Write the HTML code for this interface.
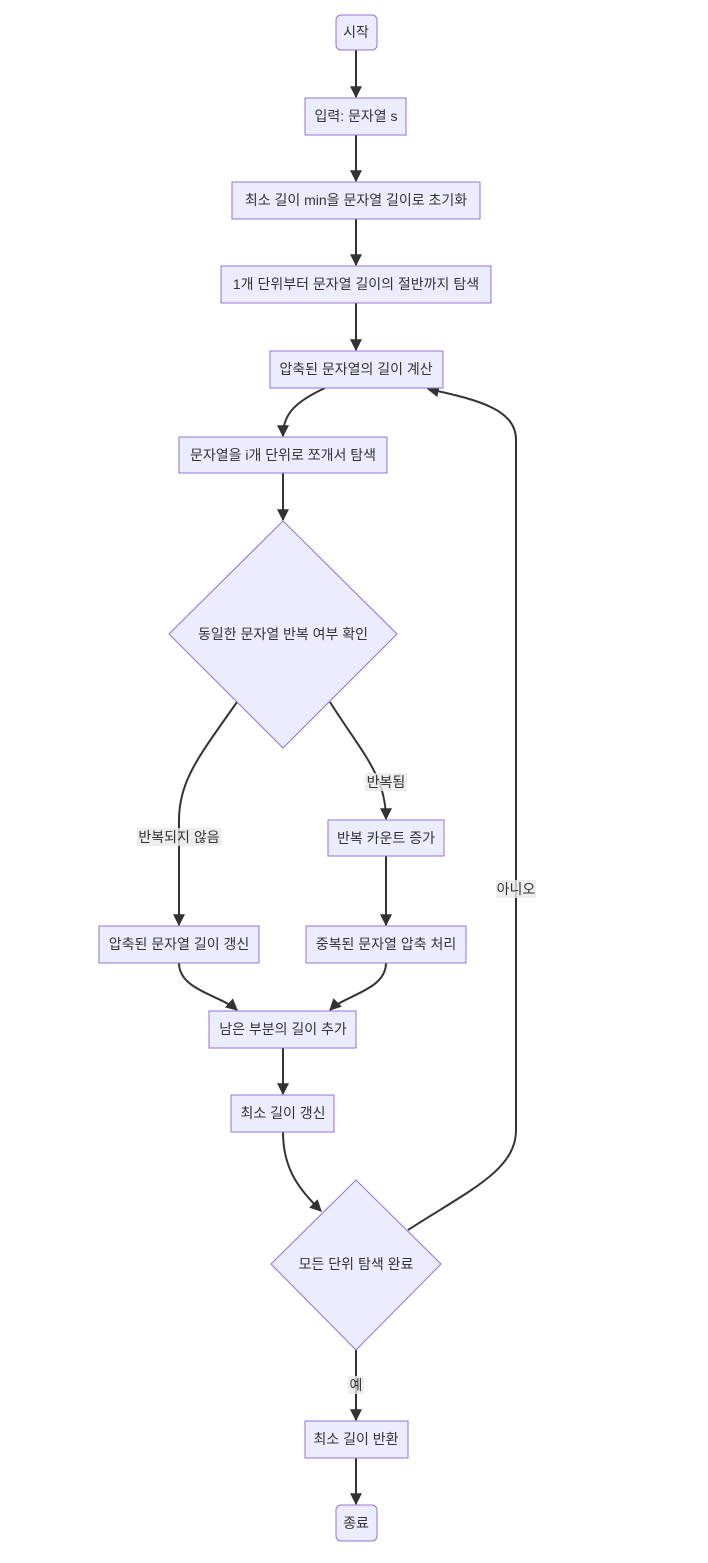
<!DOCTYPE html>
<html><head><meta charset="utf-8"><style>
html,body{margin:0;padding:0;background:#fff;}
svg text{font-family:"Liberation Sans","Noto Sans CJK KR","NanumGothic",sans-serif;font-size:14px;fill:#333;}
.n{fill:#ECECFF;stroke:#9370DB;stroke-width:1;}
.e{fill:none;stroke:#333;stroke-width:2;}
.lb{fill:#e8e8e8;opacity:0.8;stroke:none;}
</style></head><body>
<svg width="708" height="1558" viewBox="0 0 708 1558" xmlns="http://www.w3.org/2000/svg">
<defs><marker id="a" viewBox="0 0 10 10" refX="9" refY="5" markerWidth="6" markerHeight="6" orient="auto"><path d="M0,0L10,5L0,10z" fill="#333"/></marker></defs>
<!-- edges -->
<path class="e" marker-end="url(#a)" d="M356,50V97"/>
<path class="e" marker-end="url(#a)" d="M356,135V181"/>
<path class="e" marker-end="url(#a)" d="M356,219V265"/>
<path class="e" marker-end="url(#a)" d="M356,303V350"/>
<path class="e" marker-end="url(#a)" d="M325,388C295,402 283,414 283,436"/>
<path class="e" marker-end="url(#a)" d="M283,473V520"/>
<path class="e" marker-end="url(#a)" d="M237,702C200,755 179,780 179,820V925"/>
<path class="e" marker-end="url(#a)" d="M330,702C360,750 386,775 386,819"/>
<path class="e" marker-end="url(#a)" d="M386,856V925"/>
<path class="e" marker-end="url(#a)" d="M179,963C179,990 220,995 237,1010"/>
<path class="e" marker-end="url(#a)" d="M386,963C386,990 345,995 330,1010"/>
<path class="e" marker-end="url(#a)" d="M283,1048V1094"/>
<path class="e" marker-end="url(#a)" d="M283,1132C283,1170 300,1190 321,1211"/>
<path class="e" marker-end="url(#a)" d="M408,1230C470,1190 516,1170 516,1130V440C516,410 480,400 428,389"/>
<path class="e" marker-end="url(#a)" d="M356,1350V1420"/>
<path class="e" marker-end="url(#a)" d="M356,1458V1504"/>
<!-- edge labels -->
<rect class="lb" x="137" y="828" width="84" height="18"/><text x="179" y="842" text-anchor="middle">반복되지 않음</text>
<rect class="lb" x="365" y="773" width="42" height="18"/><text x="386" y="787" text-anchor="middle">반복됨</text>
<rect class="lb" x="496" y="880" width="40" height="18"/><text x="516" y="894" text-anchor="middle">아니오</text>
<rect class="lb" x="348" y="1376" width="16" height="18"/><text x="356" y="1390" text-anchor="middle">예</text>
<!-- nodes -->
<rect class="n" x="336" y="15" width="41" height="35" rx="5"/><text x="356" y="37" text-anchor="middle">시작</text>
<rect class="n" x="305" y="98" width="101" height="37"/><text x="356" y="121" text-anchor="middle">입력: 문자열 s</text>
<rect class="n" x="232" y="182" width="248" height="37"/><text x="356" y="205" text-anchor="middle">최소 길이 min을 문자열 길이로 초기화</text>
<rect class="n" x="221" y="266" width="270" height="37"/><text x="356" y="289" text-anchor="middle">1개 단위부터 문자열 길이의 절반까지 탐색</text>
<rect class="n" x="270" y="351" width="173" height="37"/><text x="356" y="374" text-anchor="middle">압축된 문자열의 길이 계산</text>
<rect class="n" x="179" y="437" width="208" height="36"/><text x="283" y="460" text-anchor="middle">문자열을 i개 단위로 쪼개서 탐색</text>
<polygon class="n" points="283,521 397,634 283,748 169,634"/><text x="283" y="639" text-anchor="middle">동일한 문자열 반복 여부 확인</text>
<rect class="n" x="328" y="820" width="116" height="36"/><text x="386" y="843" text-anchor="middle">반복 카운트 증가</text>
<rect class="n" x="99" y="926" width="160" height="37"/><text x="179" y="949" text-anchor="middle">압축된 문자열 길이 갱신</text>
<rect class="n" x="306" y="926" width="160" height="37"/><text x="386" y="949" text-anchor="middle">중복된 문자열 압축 처리</text>
<rect class="n" x="209" y="1011" width="147" height="37"/><text x="283" y="1034" text-anchor="middle">남은 부분의 길이 추가</text>
<rect class="n" x="231" y="1095" width="103" height="37"/><text x="283" y="1118" text-anchor="middle">최소 길이 갱신</text>
<polygon class="n" points="356,1180 441,1264 356,1350 271,1264"/><text x="356" y="1269" text-anchor="middle">모든 단위 탐색 완료</text>
<rect class="n" x="305" y="1421" width="103" height="37"/><text x="356" y="1444" text-anchor="middle">최소 길이 반환</text>
<rect class="n" x="336" y="1505" width="41" height="36" rx="5"/><text x="356" y="1528" text-anchor="middle">종료</text>
</svg>
</body></html>
